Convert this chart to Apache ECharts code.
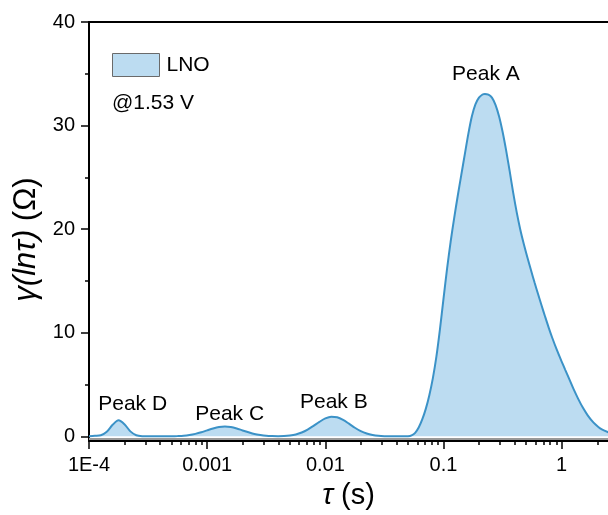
<!DOCTYPE html>
<html>
<head>
<meta charset="utf-8">
<script src="https://cdn.jsdelivr.net/npm/echarts@6/dist/echarts.min.js"></script>
<style>
  html, body { margin: 0; padding: 0; background: #fff; }
  #chart { width: 608px; height: 515px; }
</style>
</head>
<body>
<div id="chart"></div>
<script>
// relaxation time tau (s)
const tau = [
  1e-4, 1.122e-4, 1.259e-4, 1.413e-4, 1.585e-4, 1.778e-4, 1.995e-4, 2.239e-4, 2.512e-4, 2.818e-4,
  3.548e-4, 4.467e-4,
  5.012e-4, 5.623e-4, 6.310e-4, 7.079e-4, 7.943e-4, 8.913e-4, 1e-3, 1.122e-3, 1.259e-3, 1.413e-3,
  1.585e-3, 1.778e-3, 1.995e-3, 2.239e-3, 2.512e-3, 2.818e-3, 3.162e-3, 3.548e-3, 3.981e-3, 4.467e-3,
  5.012e-3, 5.623e-3, 6.310e-3, 7.079e-3, 7.943e-3, 8.913e-3, 0.01, 0.01122, 0.01259, 0.01413,
  0.01585, 0.01778, 0.01995, 0.02239, 0.02512, 0.02818, 0.03162,
  0.03981,
  0.05012, 0.05370, 0.05754, 0.06166, 0.06607, 0.07079, 0.07586, 0.08128, 0.08710, 0.09333, 0.1,
  0.1072, 0.1148, 0.1230, 0.1318, 0.1413, 0.1514, 0.1622, 0.1738, 0.1862, 0.1995, 0.2138,
  0.2239,
  0.2399, 0.2570, 0.2754, 0.2951, 0.3162, 0.3388, 0.3631, 0.3890, 0.4169, 0.4467,
  0.4786, 0.5129, 0.5495, 0.5888, 0.6310, 0.6761, 0.7244, 0.7762, 0.8318,
  0.9120, 1.0, 1.072, 1.148, 1.259, 1.380, 1.514, 1.660, 1.862, 2.042, 2.188, 2.455, 2.630
];
// gamma(ln tau) (Ohm)
const gamma = [
  0.02, 0.05, 0.10, 0.44, 1.11, 1.55, 1.17, 0.48, 0.11, 0.02,
  0.00, 0.00,
  0.01, 0.03, 0.06, 0.13, 0.24, 0.39, 0.58, 0.76, 0.90, 0.95,
  0.90, 0.76, 0.57, 0.39, 0.23, 0.13, 0.06, 0.03, 0.02, 0.03,
  0.08, 0.18, 0.37, 0.65, 1.01, 1.40, 1.73, 1.90, 1.84, 1.59,
  1.22, 0.83, 0.50, 0.27, 0.13, 0.05, 0.02,
  0.00,
  0.02, 0.10, 0.34, 0.85, 1.63, 2.65, 3.97, 5.62, 7.72, 10.36, 13.30,
  16.18, 18.76, 21.05, 23.18, 25.22, 27.22, 29.2, 30.9, 32.05, 32.7, 33.0,
  33.06,
  32.98, 32.7, 32.0, 30.9, 29.4, 27.6, 25.6, 23.5, 21.6, 19.95,
  18.55, 17.27, 16.05, 14.87, 13.74, 12.63, 11.55, 10.5, 9.52,
  8.32, 7.22, 6.42, 5.64, 4.58, 3.62, 2.75, 2.03, 1.32, 0.91, 0.68, 0.42, 0.31
];

const xMajorTicks = [1e-4, 1e-3, 1e-2, 1e-1, 1];
const xTickLabels = ['1E-4', '0.001', '0.01', '0.1', '1'];
const xMinorTicks = [
  2e-4, 3e-4, 4e-4, 5e-4, 6e-4, 7e-4, 8e-4, 9e-4,
  2e-3, 3e-3, 4e-3, 5e-3, 6e-3, 7e-3, 8e-3, 9e-3,
  0.02, 0.03, 0.04, 0.05, 0.06, 0.07, 0.08, 0.09,
  0.2, 0.3, 0.4, 0.5, 0.6, 0.7, 0.8, 0.9,
  2
];
const yMajorTicks = [0, 10, 20, 30, 40];
const yMinorTicks = [5, 15, 25, 35];

const seriesName = 'LNO';
const noteText = '@1.53 V';
const peakLabels = ['Peak A', 'Peak B', 'Peak C', 'Peak D'];

const FONT = '"Liberation Sans", Arial, Helvetica, sans-serif';
const LINE = '#3b92c7';
const FILL = '#bcdcf1';

const xMin = 1e-4, xMax = 2.466;
const yMin = -0.45, yMax = 40;

const chart = echarts.init(document.getElementById('chart'), null, { renderer: 'canvas' });

const data = tau.map((t, i) => [t, gamma[i]]);

function xFormatter(v) {
  for (let i = 0; i < xMajorTicks.length; i++) {
    if (Math.abs(Math.log10(v / xMajorTicks[i])) < 1e-6) return xTickLabels[i];
  }
  return '';
}

const option = {
  animation: false,
  backgroundColor: '#fff',
  textStyle: { fontFamily: FONT, color: '#000' },
  title: {
    text: noteText,
    left: 112, top: 93, padding: 0,
    textStyle: { fontFamily: FONT, fontSize: 21, fontWeight: 'normal', color: '#000' }
  },
  legend: {
    data: [seriesName],
    left: 112, top: 53, padding: 0,
    icon: 'rect', itemWidth: 47, itemHeight: 23,
    itemStyle: { color: FILL, borderColor: '#6a6a6a', borderWidth: 1 },
    textStyle: { fontFamily: FONT, fontSize: 21, color: '#000', padding: [0, 0, 0, 2] }
  },
  grid: { left: 89, right: 0, top: 22, bottom: 73, containLabel: false },
  xAxis: [
    {
      type: 'log', logBase: 10, min: xMin, max: xMax, position: 'bottom',
      name: '{it|τ} (s)', nameLocation: 'middle', nameGap: 40,
      nameTextStyle: {
        fontFamily: FONT, fontSize: 29, color: '#000',
        rich: { it: { fontFamily: FONT, fontSize: 29, fontStyle: 'italic', color: '#000' } }
      },
      axisLine: { show: true, onZero: false, lineStyle: { color: '#000', width: 2 } },
      axisTick: { show: true, inside: false, length: 8, customValues: xMajorTicks, lineStyle: { color: '#000', width: 1.5 } },
      axisLabel: { show: true, customValues: xMajorTicks, formatter: xFormatter, fontFamily: FONT, fontSize: 20, color: '#000', margin: 14 },
      minorTick: { show: false },
      splitLine: { show: false }
    },
    {
      type: 'log', logBase: 10, min: xMin, max: xMax, position: 'bottom',
      axisLine: { show: false, onZero: false },
      axisTick: { show: true, inside: false, length: 4, customValues: xMinorTicks, lineStyle: { color: '#000', width: 1.5 } },
      axisLabel: { show: false },
      splitLine: { show: false }
    },
    {
      type: 'log', logBase: 10, min: xMin, max: xMax, position: 'top',
      axisLine: { show: true, onZero: false, lineStyle: { color: '#000', width: 2 } },
      axisTick: { show: false },
      axisLabel: { show: false },
      splitLine: { show: false }
    }
  ],
  yAxis: [
    {
      type: 'value', min: yMin, max: yMax, position: 'left',
      name: '{it|γ(lnτ)} (Ω)', nameLocation: 'middle', nameGap: 44, nameRotate: 90,
      nameTextStyle: {
        fontFamily: FONT, fontSize: 31, color: '#000', padding: [0, 16, 0, 0],
        rich: { it: { fontFamily: FONT, fontSize: 31, fontStyle: 'italic', color: '#000' } }
      },
      axisLine: { show: true, onZero: false, lineStyle: { color: '#000', width: 2 } },
      axisTick: { show: true, inside: false, length: 8, customValues: yMajorTicks, lineStyle: { color: '#000', width: 1.5 } },
      axisLabel: { show: true, customValues: yMajorTicks, fontFamily: FONT, fontSize: 20, color: '#000', margin: 14 },
      splitLine: { show: false }
    },
    {
      type: 'value', min: yMin, max: yMax, position: 'left',
      axisLine: { show: false, onZero: false },
      axisTick: { show: true, inside: false, length: 4, customValues: yMinorTicks, lineStyle: { color: '#000', width: 1.5 } },
      axisLabel: { show: false },
      splitLine: { show: false }
    }
  ],
  series: [
    {
      name: seriesName,
      type: 'line',
      xAxisIndex: 0, yAxisIndex: 0,
      data: data,
      smooth: 0.3,
      showSymbol: false,
      symbol: 'none',
      clip: true,
      lineStyle: { color: LINE, width: 2 },
      itemStyle: { color: LINE },
      areaStyle: { color: FILL, opacity: 1 },
      markLine: {
        silent: true, symbol: 'none', animation: false,
        label: { show: false },
        lineStyle: { color: '#999', width: 2, type: 'solid' },
        data: [{ yAxis: -0.2 }]
      },
      markPoint: {
        silent: true, symbol: 'rect', symbolSize: 0,
        label: { show: true, position: 'inside', fontFamily: FONT, fontSize: 21, color: '#000', formatter: p => p.name },
        data: [
          { name: peakLabels[0], coord: [0.2286, 35.0] },
          { name: peakLabels[1], coord: [0.0118, 3.28] },
          { name: peakLabels[2], coord: [1.55e-3, 2.12] },
          { name: peakLabels[3], coord: [2.34e-4, 3.13] }
        ]
      }
    }
  ]
};

chart.setOption(option);
</script>
</body>
</html>
